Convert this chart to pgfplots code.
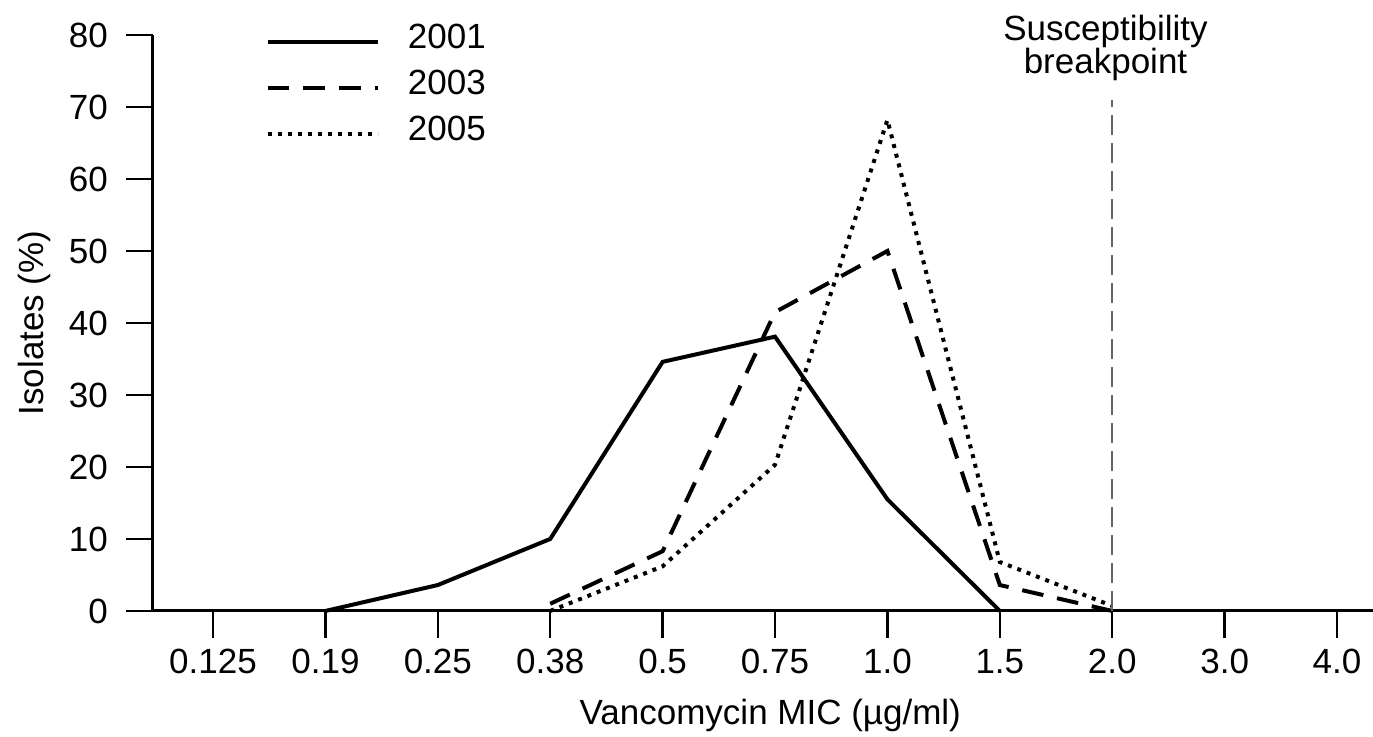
\documentclass[border=0pt]{standalone}
\usepackage{fontspec}
\setmainfont{Liberation Sans}
\usepackage{pgfplots}
\pgfplotsset{compat=1.18}

\begin{document}
\begin{tikzpicture}
  \begin{axis}[
      scale only axis, width=366pt, height=172.8pt,
      xmin=-0.534, xmax=10.32, ymin=0, ymax=80,
      clip=false,
      axis x line=bottom, axis y line=left,
      axis line style={line width=0.9pt, -},
      xtick={0,...,10},
      xticklabels={0.125,0.19,0.25,0.38,0.5,0.75,1.0,1.5,2.0,3.0,4.0},
      ytick={0,10,...,80},
      tick align=outside, major tick length=8pt,
      tick style={line width=0.75pt, black},
      /pgf/number format/assume math mode=true,
      tick label style={font=\fontsize{10.5}{12}\selectfont},
      yticklabel style={xshift=-2pt},
      label style={font=\fontsize{10.5}{12}\selectfont},
      xlabel={Vancomycin MIC (µg/ml)},
      ylabel={Isolates (\%)},
      xlabel style={at={(axis description cs:0.506,-0.181)}, anchor=center},
      ylabel style={at={(axis description cs:-0.097,0.5)}, anchor=center, rotate=0},
      legend style={draw=none, fill=none, at={(axis description cs:0.0918,1.032)},
        anchor=north west, font=\fontsize{10.5}{12}\selectfont, row sep=1pt,
        inner sep=0pt, /tikz/every odd column/.append style={column sep=6.5pt}},
      legend cell align=left,
      legend image code/.code={\draw[#1] (0pt,-1pt) -- (33pt,-1pt);},
    ]
    \coordinate (sw) at (rel axis cs:0,0);
    \coordinate (ne) at (rel axis cs:1,1);
    \addplot[black, line width=1.2pt] coordinates {(1,0)(2,3.6)(3,10)(4,34.6)(5,38.1)(6,15.5)(7,0)};
    \addlegendentry{2001}
    \addplot[black, line width=1.2pt, dash pattern=on 6.5pt off 4.2pt] coordinates {(3,1)(4,8.3)(5,41.5)(6,50)(7,3.6)(8,0)};
    \addlegendentry{2003}
    \addplot[black, line width=1.2pt, dash pattern=on 1.2pt off 1.8pt] coordinates {(3,0)(4,6.2)(5,20.3)(6,68.2)(7,6.8)(8,0.7)};
    \addlegendentry{2005}
    \addplot[gray!80!black, line width=0.6pt, dash pattern=on 6pt off 2.4pt, forget plot] coordinates {(8,0)(8,71)};
    \node[align=center, font=\fontsize{10.5}{10}\selectfont] at (axis cs:7.94,78.2) {Susceptibility\\breakpoint};
  \end{axis}
  \pgfresetboundingbox
  \path ([shift={(-45.9pt,-37.8pt)}]sw) rectangle ([shift={(0pt,10.5pt)}]ne);
\end{tikzpicture}
\end{document}
